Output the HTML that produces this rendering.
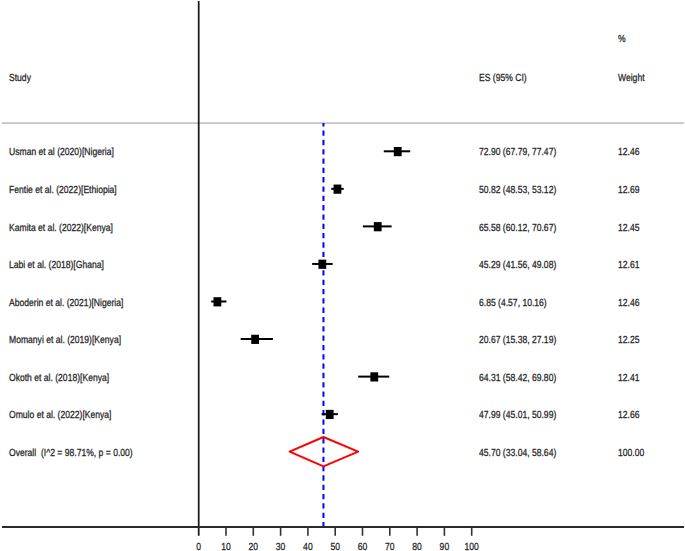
<!DOCTYPE html>
<html><head><meta charset="utf-8"><style>
html,body{margin:0;padding:0;background:#fff;width:685px;height:551px;overflow:hidden}
svg{display:block}
text{font-family:"Liberation Sans",sans-serif;font-size:10.3px;fill:#222;stroke:#222;stroke-width:0.25px;text-rendering:geometricPrecision}
</style></head><body>
<svg width="685" height="551" viewBox="0 0 685 551">
<line x1="2" y1="123.2" x2="684" y2="123.2" stroke="#c4c4c4" stroke-width="1.8"/>
<line x1="323.46" y1="123" x2="323.46" y2="526" stroke="#0000ff" stroke-width="2" stroke-dasharray="5.3 4.02" stroke-dashoffset="1.8"/>
<line x1="198.7" y1="1" x2="198.7" y2="535.8" stroke="#1a1a1a" stroke-width="1.75"/>
<line x1="2" y1="526.9" x2="684" y2="526.9" stroke="#2a2a2a" stroke-width="2"/>
<line x1="226.00" y1="527" x2="226.00" y2="535.8" stroke="#333" stroke-width="1.6"/>
<line x1="253.30" y1="527" x2="253.30" y2="535.8" stroke="#333" stroke-width="1.6"/>
<line x1="280.60" y1="527" x2="280.60" y2="535.8" stroke="#333" stroke-width="1.6"/>
<line x1="307.90" y1="527" x2="307.90" y2="535.8" stroke="#333" stroke-width="1.6"/>
<line x1="335.20" y1="527" x2="335.20" y2="535.8" stroke="#333" stroke-width="1.6"/>
<line x1="362.50" y1="527" x2="362.50" y2="535.8" stroke="#333" stroke-width="1.6"/>
<line x1="389.80" y1="527" x2="389.80" y2="535.8" stroke="#333" stroke-width="1.6"/>
<line x1="417.10" y1="527" x2="417.10" y2="535.8" stroke="#333" stroke-width="1.6"/>
<line x1="444.40" y1="527" x2="444.40" y2="535.8" stroke="#333" stroke-width="1.6"/>
<line x1="471.70" y1="527" x2="471.70" y2="535.8" stroke="#333" stroke-width="1.6"/>
<line x1="383.77" y1="151.30" x2="410.19" y2="151.30" stroke="#000" stroke-width="2"/>
<rect x="393.82" y="147.00" width="7.8" height="9.2" fill="#000"/>
<line x1="331.19" y1="188.85" x2="343.72" y2="188.85" stroke="#000" stroke-width="2"/>
<rect x="333.54" y="184.55" width="7.8" height="9.2" fill="#000"/>
<line x1="362.83" y1="226.40" x2="391.63" y2="226.40" stroke="#000" stroke-width="2"/>
<rect x="373.83" y="222.10" width="7.8" height="9.2" fill="#000"/>
<line x1="312.16" y1="263.95" x2="332.69" y2="263.95" stroke="#000" stroke-width="2"/>
<rect x="318.44" y="259.65" width="7.8" height="9.2" fill="#000"/>
<line x1="211.18" y1="301.50" x2="226.44" y2="301.50" stroke="#000" stroke-width="2"/>
<rect x="213.50" y="297.20" width="7.8" height="9.2" fill="#000"/>
<line x1="240.69" y1="339.05" x2="272.93" y2="339.05" stroke="#000" stroke-width="2"/>
<rect x="251.23" y="334.75" width="7.8" height="9.2" fill="#000"/>
<line x1="358.19" y1="376.60" x2="389.25" y2="376.60" stroke="#000" stroke-width="2"/>
<rect x="370.37" y="372.30" width="7.8" height="9.2" fill="#000"/>
<line x1="321.58" y1="414.15" x2="337.90" y2="414.15" stroke="#000" stroke-width="2"/>
<rect x="325.81" y="409.85" width="7.8" height="9.2" fill="#000"/>
<polygon points="289.60,451.65 323.46,437.00 358.19,451.65 323.46,466.30" fill="none" stroke="#f00" stroke-width="2" stroke-linejoin="round"/>
<text transform="translate(618.00,41.80) scale(0.833,1)" text-anchor="start">%</text>
<text transform="translate(9.00,80.60) scale(0.833,1)" text-anchor="start">Study</text>
<text transform="translate(479.00,80.60) scale(0.833,1)" text-anchor="start">ES (95% CI)</text>
<text transform="translate(618.00,80.60) scale(0.833,1)" text-anchor="start">Weight</text>
<text transform="translate(9.00,155.40) scale(0.833,1)" text-anchor="start">Usman et al (2020)[Nigeria]</text>
<text transform="translate(479.00,155.40) scale(0.833,1)" text-anchor="start">72.90 (67.79, 77.47)</text>
<text transform="translate(618.00,155.40) scale(0.833,1)" text-anchor="start">12.46</text>
<text transform="translate(9.00,192.95) scale(0.833,1)" text-anchor="start">Fentie et al. (2022)[Ethiopia]</text>
<text transform="translate(479.00,192.95) scale(0.833,1)" text-anchor="start">50.82 (48.53, 53.12)</text>
<text transform="translate(618.00,192.95) scale(0.833,1)" text-anchor="start">12.69</text>
<text transform="translate(9.00,230.50) scale(0.833,1)" text-anchor="start">Kamita et al. (2022)[Kenya]</text>
<text transform="translate(479.00,230.50) scale(0.833,1)" text-anchor="start">65.58 (60.12, 70.67)</text>
<text transform="translate(618.00,230.50) scale(0.833,1)" text-anchor="start">12.45</text>
<text transform="translate(9.00,268.05) scale(0.833,1)" text-anchor="start">Labi et al. (2018)[Ghana]</text>
<text transform="translate(479.00,268.05) scale(0.833,1)" text-anchor="start">45.29 (41.56, 49.08)</text>
<text transform="translate(618.00,268.05) scale(0.833,1)" text-anchor="start">12.61</text>
<text transform="translate(9.00,305.60) scale(0.833,1)" text-anchor="start">Aboderin et al. (2021)[Nigeria]</text>
<text transform="translate(479.00,305.60) scale(0.833,1)" text-anchor="start">6.85 (4.57, 10.16)</text>
<text transform="translate(618.00,305.60) scale(0.833,1)" text-anchor="start">12.46</text>
<text transform="translate(9.00,343.15) scale(0.833,1)" text-anchor="start">Momanyi et al. (2019)[Kenya]</text>
<text transform="translate(479.00,343.15) scale(0.833,1)" text-anchor="start">20.67 (15.38, 27.19)</text>
<text transform="translate(618.00,343.15) scale(0.833,1)" text-anchor="start">12.25</text>
<text transform="translate(9.00,380.70) scale(0.833,1)" text-anchor="start">Okoth et al. (2018)[Kenya]</text>
<text transform="translate(479.00,380.70) scale(0.833,1)" text-anchor="start">64.31 (58.42, 69.80)</text>
<text transform="translate(618.00,380.70) scale(0.833,1)" text-anchor="start">12.41</text>
<text transform="translate(9.00,418.25) scale(0.833,1)" text-anchor="start">Omulo et al. (2022)[Kenya]</text>
<text transform="translate(479.00,418.25) scale(0.833,1)" text-anchor="start">47.99 (45.01, 50.99)</text>
<text transform="translate(618.00,418.25) scale(0.833,1)" text-anchor="start">12.66</text>
<text transform="translate(9.00,455.80) scale(0.833,1)" text-anchor="start">Overall  (I^2 = 98.71%, p = 0.00)</text>
<text transform="translate(479.00,455.80) scale(0.833,1)" text-anchor="start">45.70 (33.04, 58.64)</text>
<text transform="translate(618.00,455.80) scale(0.833,1)" text-anchor="start">100.00</text>
<text transform="translate(198.70,549.5) scale(0.833,1)" text-anchor="middle">0</text>
<text transform="translate(226.00,549.5) scale(0.833,1)" text-anchor="middle">10</text>
<text transform="translate(253.30,549.5) scale(0.833,1)" text-anchor="middle">20</text>
<text transform="translate(280.60,549.5) scale(0.833,1)" text-anchor="middle">30</text>
<text transform="translate(307.90,549.5) scale(0.833,1)" text-anchor="middle">40</text>
<text transform="translate(335.20,549.5) scale(0.833,1)" text-anchor="middle">50</text>
<text transform="translate(362.50,549.5) scale(0.833,1)" text-anchor="middle">60</text>
<text transform="translate(389.80,549.5) scale(0.833,1)" text-anchor="middle">70</text>
<text transform="translate(417.10,549.5) scale(0.833,1)" text-anchor="middle">80</text>
<text transform="translate(444.40,549.5) scale(0.833,1)" text-anchor="middle">90</text>
<text transform="translate(471.70,549.5) scale(0.833,1)" text-anchor="middle">100</text>
</svg>
</body></html>
